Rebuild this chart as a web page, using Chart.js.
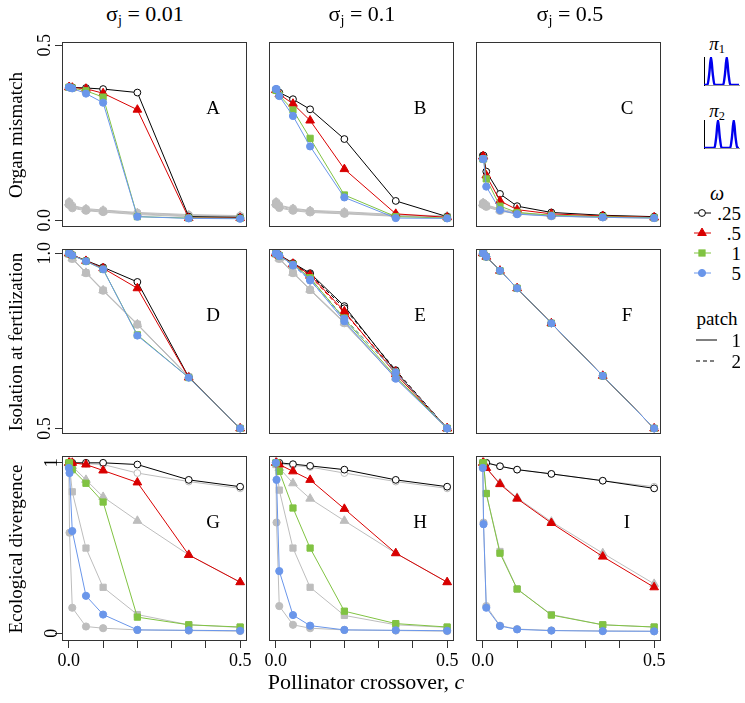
<!DOCTYPE html>
<html>
<head>
<meta charset="utf-8">
<title>Pollinator crossover panels</title>
<script src="https://cdn.jsdelivr.net/npm/chart.js@4.4.1/dist/chart.umd.min.js"></script>
<style>
  body { margin: 0; background: #fff; font-family: "Liberation Serif", "Times New Roman", serif; }
  #page { position: relative; width: 745px; height: 703px; overflow: hidden; }
  .panel { position: absolute; width: 235px; height: 235px; }
  .mini { position: absolute; width: 44px; height: 38px; }
  .lbl { position: absolute; white-space: nowrap; color: #000; font-family: "Liberation Serif", "Times New Roman", serif; font-size: 19px; line-height: 1; transform: translate(-50%, -50%); }
  .rot { transform: translate(-50%, -50%) rotate(-90deg); font-size: 19px; }
  .right { transform: translate(-100%, -50%); }
  sub { font-size: 0.65em; vertical-align: -0.25em; }
</style>
</head>
<body>
<div id="page"></div>
<script>
/* ---------- data ---------- */
const cross = [0, 0.002, 0.01, 0.05, 0.1, 0.2, 0.35, 0.5];
const xTicks = [0, 0.1, 0.2, 0.3, 0.4, 0.5];
const sigmaLabels = ['0.01', '0.1', '0.5'];
const rowTitles = ['Organ mismatch', 'Isolation at fertilization', 'Ecological divergence'];
const rowTicks = [[0, 0.5], [0.5, 1], [0, 1]];
const rowTickLabels = [['0.0', '0.5'], ['0.5', '1.0'], ['0', '1']];
const omegaLabels = ['.25', '.5', '1', '5'];
const patchLabels = ['1', '2'];

// A
const A_black = [0.380, 0.380, 0.380, 0.378, 0.375, 0.365, 0.010, 0.008];
const A_red   = [0.380, 0.380, 0.379, 0.376, 0.363, 0.316, 0.006, 0.006];
const A_green = [0.380, 0.380, 0.378, 0.370, 0.352, 0.010, 0.006, 0.005];
const A_blue  = [0.380, 0.380, 0.377, 0.362, 0.336, 0.010, 0.005, 0.004];
const A_gOpen = [0.052, 0.052, 0.042, 0.033, 0.029, 0.022, 0.016, 0.013];
const A_gTri  = [0.050, 0.050, 0.040, 0.031, 0.027, 0.020, 0.014, 0.012];
const A_gSq   = [0.047, 0.047, 0.037, 0.029, 0.025, 0.018, 0.012, 0.010];
const A_gDot  = [0.044, 0.044, 0.034, 0.027, 0.023, 0.016, 0.010, 0.008];
// B
const B_black = [0.372, 0.372, 0.365, 0.346, 0.317, 0.232, 0.055, 0.010];
const B_red   = [0.372, 0.372, 0.360, 0.333, 0.285, 0.146, 0.018, 0.008];
const B_green = [0.372, 0.372, 0.357, 0.315, 0.234, 0.072, 0.010, 0.006];
const B_blue  = [0.375, 0.375, 0.355, 0.298, 0.211, 0.065, 0.006, 0.005];
const B_gOpen = [0.052, 0.052, 0.043, 0.034, 0.028, 0.024, 0.016, 0.012];
const B_gTri  = [0.050, 0.050, 0.041, 0.032, 0.026, 0.022, 0.014, 0.011];
const B_gSq   = [0.047, 0.047, 0.038, 0.029, 0.024, 0.020, 0.012, 0.010];
const B_gDot  = [0.044, 0.044, 0.035, 0.027, 0.022, 0.018, 0.011, 0.009];
// C
const C_black = [0.185, 0.185, 0.139, 0.075, 0.040, 0.022, 0.014, 0.010];
const C_red   = [0.182, 0.182, 0.128, 0.055, 0.030, 0.018, 0.012, 0.008];
const C_green = [0.175, 0.175, 0.118, 0.040, 0.022, 0.014, 0.010, 0.007];
const C_blue  = [0.175, 0.175, 0.096, 0.029, 0.017, 0.012, 0.008, 0.006];
const C_gOpen = [0.050, 0.050, 0.044, 0.032, 0.022, 0.014, 0.010, 0.008];
const C_gTri  = [0.048, 0.048, 0.042, 0.030, 0.020, 0.013, 0.009, 0.007];
const C_gSq   = [0.046, 0.046, 0.040, 0.028, 0.019, 0.012, 0.008, 0.006];
const C_gDot  = [0.044, 0.044, 0.038, 0.026, 0.018, 0.011, 0.008, 0.006];
// D
const D_black = [1.000, 1.000, 0.995, 0.979, 0.960, 0.918, 0.646, 0.500];
const D_red   = [1.000, 1.000, 0.995, 0.978, 0.957, 0.900, 0.645, 0.500];
const D_green = [1.000, 1.000, 0.994, 0.977, 0.954, 0.767, 0.645, 0.500];
const D_blue  = [1.000, 1.000, 0.994, 0.977, 0.954, 0.765, 0.645, 0.500];
const D_gOpen = [0.998, 0.998, 0.985, 0.945, 0.895, 0.798, 0.648, 0.500];
const D_gTri  = [0.998, 0.998, 0.985, 0.944, 0.894, 0.797, 0.647, 0.500];
const D_gSq   = [0.997, 0.997, 0.984, 0.944, 0.894, 0.797, 0.647, 0.500];
const D_gDot  = [0.997, 0.997, 0.984, 0.943, 0.893, 0.796, 0.646, 0.500];
// E (patch 1 solid, patch 2 dashed)
const E_black  = [1.000, 1.000, 0.995, 0.972, 0.943, 0.849, 0.662, 0.500];
const E_red    = [1.000, 1.000, 0.994, 0.970, 0.938, 0.834, 0.655, 0.500];
const E_green  = [1.000, 1.000, 0.993, 0.968, 0.930, 0.812, 0.648, 0.500];
const E_blue   = [1.000, 1.000, 0.993, 0.967, 0.925, 0.806, 0.642, 0.500];
const E_black2 = [1.000, 1.000, 0.994, 0.970, 0.940, 0.843, 0.666, 0.500];
const E_red2   = [1.000, 1.000, 0.993, 0.968, 0.935, 0.830, 0.662, 0.500];
const E_green2 = [1.000, 1.000, 0.992, 0.966, 0.928, 0.815, 0.660, 0.500];
const E_blue2  = [1.000, 1.000, 0.992, 0.965, 0.922, 0.813, 0.660, 0.500];
const E_gOpen  = [0.998, 0.998, 0.985, 0.945, 0.897, 0.803, 0.645, 0.500];
const E_gTri   = [0.998, 0.998, 0.985, 0.944, 0.896, 0.802, 0.645, 0.500];
const E_gSq    = [0.997, 0.997, 0.984, 0.944, 0.895, 0.801, 0.644, 0.500];
const E_gDot   = [0.997, 0.997, 0.984, 0.943, 0.895, 0.800, 0.644, 0.500];
// F
const F_black = [1.000, 1.000, 0.990, 0.950, 0.900, 0.800, 0.650, 0.500];
const F_red   = [1.000, 1.000, 0.990, 0.950, 0.900, 0.800, 0.650, 0.500];
const F_green = [1.000, 1.000, 0.990, 0.950, 0.900, 0.800, 0.650, 0.500];
const F_blue  = [1.000, 1.000, 0.990, 0.950, 0.900, 0.800, 0.650, 0.500];
const F_gOpen = [1.000, 1.000, 0.990, 0.950, 0.900, 0.800, 0.650, 0.500];
const F_gTri  = [1.000, 1.000, 0.990, 0.950, 0.900, 0.800, 0.650, 0.500];
const F_gSq   = [1.000, 1.000, 0.990, 0.950, 0.900, 0.800, 0.650, 0.500];
const F_gDot  = [1.000, 1.000, 0.990, 0.950, 0.900, 0.800, 0.650, 0.500];
// G
const G_black = [1.000, 1.000, 1.000, 1.000, 1.000, 0.990, 0.900, 0.860];
const G_red   = [1.000, 1.000, 1.000, 0.990, 0.955, 0.885, 0.460, 0.300];
const G_green = [1.000, 1.000, 0.960, 0.880, 0.770, 0.095, 0.050, 0.037];
const G_blue  = [0.970, 0.940, 0.600, 0.220, 0.110, 0.020, 0.018, 0.015];
const G_gOpen = [1.000, 1.000, 1.000, 0.995, 0.990, 0.940, 0.890, 0.850];
const G_gTri  = [1.000, 1.000, 0.980, 0.900, 0.800, 0.660, 0.460, 0.300];
const G_gSq   = [1.000, 0.980, 0.830, 0.500, 0.270, 0.110, 0.050, 0.035];
const G_gDot  = [0.980, 0.590, 0.150, 0.040, 0.030, 0.020, 0.016, 0.013];
// H
const H_black = [1.000, 1.000, 1.000, 0.992, 0.982, 0.960, 0.900, 0.860];
const H_red   = [1.000, 1.000, 0.990, 0.950, 0.900, 0.730, 0.470, 0.300];
const H_green = [1.000, 1.000, 0.950, 0.735, 0.500, 0.130, 0.057, 0.037];
const H_blue  = [1.000, 0.900, 0.365, 0.107, 0.045, 0.020, 0.018, 0.015];
const H_gOpen = [1.000, 1.000, 0.995, 0.985, 0.975, 0.940, 0.890, 0.850];
const H_gTri  = [1.000, 1.000, 0.970, 0.880, 0.790, 0.660, 0.470, 0.300];
const H_gSq   = [0.990, 0.990, 0.840, 0.500, 0.270, 0.105, 0.050, 0.035];
const H_gDot  = [1.000, 0.650, 0.160, 0.050, 0.030, 0.020, 0.016, 0.013];
// I
const I_black = [1.000, 1.000, 1.000, 0.980, 0.960, 0.935, 0.895, 0.850];
const I_red   = [1.000, 1.000, 0.970, 0.875, 0.790, 0.647, 0.450, 0.270];
const I_green = [1.000, 1.000, 0.820, 0.470, 0.260, 0.107, 0.050, 0.037];
const I_blue  = [0.970, 0.640, 0.150, 0.043, 0.023, 0.016, 0.013, 0.012];
const I_gOpen = [1.000, 1.000, 1.000, 0.980, 0.960, 0.935, 0.895, 0.860];
const I_gTri  = [1.000, 1.000, 0.970, 0.880, 0.795, 0.655, 0.470, 0.290];
const I_gSq   = [1.000, 1.000, 0.820, 0.480, 0.260, 0.110, 0.050, 0.037];
const I_gDot  = [0.970, 0.650, 0.160, 0.045, 0.025, 0.017, 0.014, 0.012];

// legend mini plots (pollinator preference profiles)
const piX = [0, 0.05, 0.1, 0.15, 0.2, 0.25, 0.3, 0.35, 0.4, 0.45, 0.5, 0.55, 0.6, 0.65, 0.7, 0.75, 0.8, 0.85, 0.9, 0.95, 1];
const pi1 = [0, 0, 0.02, 0.4, 1, 0.4, 0.02, 0, 0, 0, 0, 0.02, 0.4, 1, 0.4, 0.02, 0, 0, 0, 0, 0];
const pi2 = [0, 0, 0, 0, 0, 0, 0.02, 0.4, 1, 0.4, 0.02, 0, 0, 0, 0, 0.02, 0.4, 1, 0.4, 0.02, 0];

/* ---------- styles ---------- */
const SERIF = '"Liberation Serif", "Times New Roman", serif';
Chart.defaults.font.family = SERIF;
Chart.defaults.font.size = 18;
Chart.defaults.color = '#000';

const GRAY = '#bdbdbd';
const STYLE = {
  black: { color: '#000000', fill: '#ffffff', shape: 'circle', r: 3.4, order: 4 },
  red:   { color: '#d90000', fill: '#d90000', shape: 'triangle', r: 5, order: 3 },
  green: { color: '#80c342', fill: '#80c342', shape: 'rect', r: 4.4, order: 2 },
  blue:  { color: '#6a96ea', fill: '#6a96ea', shape: 'circle', r: 3.6, order: 1 },
  gOpen: { color: GRAY, fill: '#ffffff', shape: 'circle', r: 3.4, order: 8 },
  gTri:  { color: GRAY, fill: GRAY, shape: 'triangle', r: 5, order: 7 },
  gSq:   { color: GRAY, fill: GRAY, shape: 'rect', r: 4.4, order: 6 },
  gDot:  { color: GRAY, fill: GRAY, shape: 'circle', r: 3.6, order: 5 }
};

const colLeft = [62, 269, 476];
const rowTop = [42, 249, 456];
const BOX = 185;
const rowRange = [[-0.0196, 0.5096], [0.484, 1.012], [-0.045, 1.04]];

const panels = [
  { id: 'A', row: 0, col: 0, s: { black: A_black, red: A_red, green: A_green, blue: A_blue, gOpen: A_gOpen, gTri: A_gTri, gSq: A_gSq, gDot: A_gDot } },
  { id: 'B', row: 0, col: 1, s: { black: B_black, red: B_red, green: B_green, blue: B_blue, gOpen: B_gOpen, gTri: B_gTri, gSq: B_gSq, gDot: B_gDot } },
  { id: 'C', row: 0, col: 2, s: { black: C_black, red: C_red, green: C_green, blue: C_blue, gOpen: C_gOpen, gTri: C_gTri, gSq: C_gSq, gDot: C_gDot } },
  { id: 'D', row: 1, col: 0, s: { black: D_black, red: D_red, green: D_green, blue: D_blue, gOpen: D_gOpen, gTri: D_gTri, gSq: D_gSq, gDot: D_gDot } },
  { id: 'E', row: 1, col: 1, s: { black: E_black, red: E_red, green: E_green, blue: E_blue, gOpen: E_gOpen, gTri: E_gTri, gSq: E_gSq, gDot: E_gDot },
    dashed: { black: E_black2, red: E_red2, green: E_green2, blue: E_blue2 } },
  { id: 'F', row: 1, col: 2, s: { black: F_black, red: F_red, green: F_green, blue: F_blue, gOpen: F_gOpen, gTri: F_gTri, gSq: F_gSq, gDot: F_gDot } },
  { id: 'G', row: 2, col: 0, s: { black: G_black, red: G_red, green: G_green, blue: G_blue, gOpen: G_gOpen, gTri: G_gTri, gSq: G_gSq, gDot: G_gDot } },
  { id: 'H', row: 2, col: 1, s: { black: H_black, red: H_red, green: H_green, blue: H_blue, gOpen: H_gOpen, gTri: H_gTri, gSq: H_gSq, gDot: H_gDot } },
  { id: 'I', row: 2, col: 2, s: { black: I_black, red: I_red, green: I_green, blue: I_blue, gOpen: I_gOpen, gTri: I_gTri, gSq: I_gSq, gDot: I_gDot } }
];

/* ---------- helpers ---------- */
const page = document.getElementById('page');

function addLabel(html, x, y, cls = '', extra = '') {
  const d = document.createElement('div');
  d.className = 'lbl ' + cls;
  d.style.left = x + 'px';
  d.style.top = y + 'px';
  if (extra) d.style.cssText += extra;
  d.innerHTML = html;
  page.appendChild(d);
  return d;
}

function series(values, st, dash) {
  return {
    data: values.map((y, i) => ({ x: cross[i], y })),
    borderColor: st.color,
    backgroundColor: st.fill,
    borderWidth: 1,
    borderDash: dash || [],
    pointStyle: st.shape,
    pointRadius: st.r,
    pointHoverRadius: st.r,
    pointBorderWidth: 1,
    pointBorderColor: st.color,
    pointBackgroundColor: st.fill,
    order: dash ? st.order - 0.5 : st.order,
    tension: 0
  };
}

const boxPlugin = {
  id: 'panelBox',
  afterDraw(chart) {
    const { ctx, chartArea: a } = chart;
    ctx.save();
    ctx.strokeStyle = '#333';
    ctx.lineWidth = 1;
    ctx.strokeRect(Math.round(a.left) + 0.5, Math.round(a.top) + 0.5, Math.round(a.width) - 1, Math.round(a.height) - 1);
    const letter = chart.options.plugins.panelBox.letter;
    ctx.fillStyle = '#000';
    ctx.font = '19px ' + SERIF;
    ctx.textAlign = 'center';
    ctx.textBaseline = 'middle';
    ctx.fillText(letter, a.left + 151, a.top + 67);
    ctx.restore();
  }
};

function makePanel(p) {
  const left = colLeft[p.col], top = rowTop[p.row];
  const wrap = document.createElement('div');
  wrap.className = 'panel';
  wrap.style.left = (left - 40) + 'px';
  wrap.style.top = (top - 10) + 'px';
  const cv = document.createElement('canvas');
  wrap.appendChild(cv);
  page.appendChild(wrap);

  const datasets = [];
  ['gOpen', 'gTri', 'gSq', 'gDot', 'black', 'red', 'green', 'blue'].forEach(k => datasets.push(series(p.s[k], STYLE[k])));
  if (p.dashed) {
    ['black', 'red', 'green', 'blue'].forEach(k => datasets.push(series(p.dashed[k], STYLE[k], [4, 3])));
  }

  const isBottom = p.row === 2;
  const isLeft = p.col === 0;
  const yt = rowTicks[p.row];
  const ytl = rowTickLabels[p.row];

  new Chart(cv, {
    type: 'line',
    data: { datasets },
    plugins: [boxPlugin],
    options: {
      responsive: true, maintainAspectRatio: false, animation: false,
      layout: { padding: { top: 10, right: 10, left: 0, bottom: 0 }, autoPadding: false },
      events: [],
      plugins: { legend: { display: false }, tooltip: { enabled: false }, panelBox: { letter: p.id } },
      scales: {
        x: {
          type: 'linear', position: 'bottom',
          min: -0.02, max: 0.52,
          afterFit: s => { s.height = 40; },
          afterBuildTicks: s => { s.ticks = xTicks.map(v => ({ value: v })); },
          grid: { display: isBottom, drawOnChartArea: false, drawTicks: true, tickLength: 7, color: '#333' },
          border: { display: false },
          ticks: {
            display: isBottom, padding: 2, maxRotation: 0, autoSkip: false,
            font: { family: SERIF, size: 18 },
            callback: v => (Math.abs(v) < 1e-9 ? '0.0' : Math.abs(v - 0.5) < 1e-9 ? '0.5' : '')
          }
        },
        y: {
          type: 'linear', position: 'left',
          min: rowRange[p.row][0], max: rowRange[p.row][1],
          afterFit: s => { s.width = 40; },
          afterBuildTicks: s => { s.ticks = yt.map(v => ({ value: v })); },
          grid: { display: isLeft, drawOnChartArea: false, drawTicks: true, tickLength: 7, color: '#333' },
          border: { display: false },
          ticks: {
            display: isLeft, padding: -2, minRotation: 90, maxRotation: 90, crossAlign: 'center', autoSkip: false,
            font: { family: SERIF, size: 18 },
            callback: v => { const i = yt.findIndex(t => Math.abs(t - v) < 1e-9); return i >= 0 ? ytl[i] : ''; }
          }
        }
      }
    }
  });
}

panels.forEach(makePanel);

/* ---------- titles ---------- */
const titleX = [145, 362, 570];
sigmaLabels.forEach((s, i) => addLabel('σ<sub>j</sub> = ' + s, titleX[i], 15, '', 'font-size:22px;'));
rowTitles.forEach((t, i) => addLabel(t, 15, rowTop[i] + BOX / 2, 'rot'));
addLabel('Pollinator crossover, <i>c</i>', 366, 682, '', 'font-size:22px;');

/* ---------- legend: preference profiles ---------- */
function makeMini(values, top) {
  const wrap = document.createElement('div');
  wrap.className = 'mini';
  wrap.style.left = '696px';
  wrap.style.top = top + 'px';
  const cv = document.createElement('canvas');
  wrap.appendChild(cv);
  page.appendChild(wrap);
  new Chart(cv, {
    type: 'line',
    data: { datasets: [{ data: values.map((y, i) => ({ x: piX[i], y })), borderColor: '#0000ee', borderWidth: 2.4, pointRadius: 0, cubicInterpolationMode: 'monotone' }] },
    options: {
      responsive: true, maintainAspectRatio: false, animation: false, events: [],
      layout: { padding: { top: 2, right: 1, left: 0, bottom: 0 }, autoPadding: false },
      plugins: { legend: { display: false }, tooltip: { enabled: false } },
      scales: {
        x: { type: 'linear', min: 0, max: 1, ticks: { display: false }, grid: { display: false }, border: { color: '#999', width: 1 } },
        y: { min: 0, max: 1, ticks: { display: false }, grid: { display: false }, border: { color: '#000', width: 1 } }
      }
    }
  });
}
addLabel('<i>π</i><sub>1</sub>', 717, 45, '', 'font-size:19px;');
makeMini(pi1, 55);
addLabel('<i>π</i><sub>2</sub>', 717, 112, '', 'font-size:19px;');
makeMini(pi2, 118);

/* ---------- legend: omega and patch ---------- */
addLabel('<i>ω</i>', 717, 193, '', 'font-size:20px;');
const legY = [213, 233, 253, 273];
const legKeys = ['black', 'red', 'green', 'blue'];
let svg = '<svg width="745" height="703" style="position:absolute;left:0;top:0" xmlns="http://www.w3.org/2000/svg">';
legKeys.forEach((k, i) => {
  const st = STYLE[k], y = legY[i], cx = 702;
  svg += `<line x1="694" y1="${y}" x2="711" y2="${y}" stroke="${st.color}" stroke-width="1"/>`;
  if (st.shape === 'circle') svg += `<circle cx="${cx}" cy="${y}" r="${st.r}" fill="${st.fill}" stroke="${st.color}"/>`;
  if (st.shape === 'triangle') svg += `<polygon points="${cx},${y - 5} ${cx + 4.3},${y + 2.5} ${cx - 4.3},${y + 2.5}" fill="${st.fill}" stroke="${st.color}"/>`;
  if (st.shape === 'rect') svg += `<rect x="${cx - 3.1}" y="${y - 3.1}" width="6.2" height="6.2" fill="${st.fill}" stroke="${st.color}"/>`;
  addLabel(omegaLabels[i], 741, y, 'right');
});
addLabel('patch', 717, 318);
svg += '<line x1="696" y1="340" x2="717" y2="340" stroke="#000" stroke-width="1"/>';
svg += '<line x1="696" y1="361" x2="717" y2="361" stroke="#000" stroke-width="1" stroke-dasharray="4 3"/>';
svg += '</svg>';
const svgHolder = document.createElement('div');
svgHolder.innerHTML = svg;
page.appendChild(svgHolder.firstChild);
patchLabels.forEach((t, i) => addLabel(t, 741, 340 + i * 21, 'right'));
</script>
</body>
</html>
